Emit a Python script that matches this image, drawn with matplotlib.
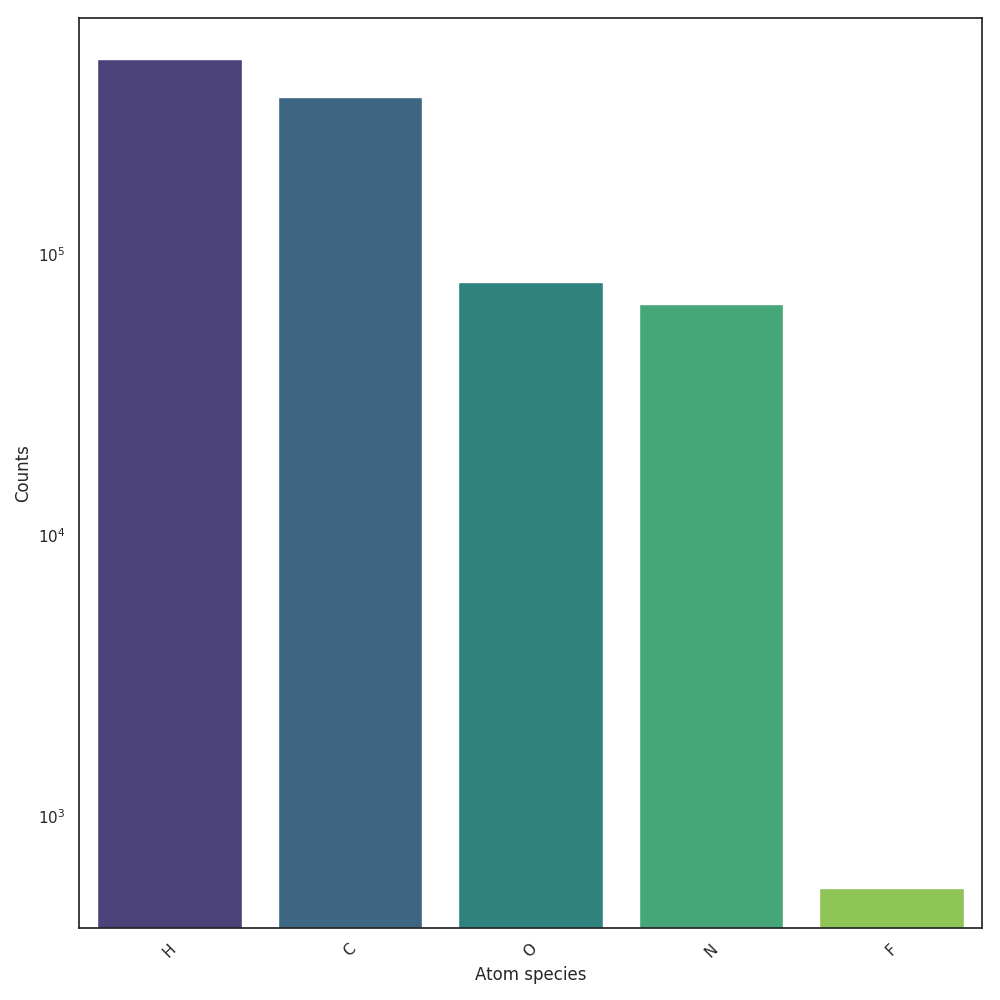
import matplotlib
matplotlib.use("Agg")
import matplotlib.pyplot as plt
import seaborn as sns
import pandas as pd

species = ["H", "C", "O", "N", "F"]
counts = [495000, 362000, 79500, 66400, 555]

sns.set_theme(style="white")
df = pd.DataFrame({"species": species, "counts": counts})

fig, ax = plt.subplots(figsize=(10, 10), dpi=100)
sns.barplot(data=df, x="species", y="counts", hue="species", palette="viridis",
            legend=False, ax=ax)
ax.set_yscale("log")
ax.set_ylim(400, 692000)
ax.set_xlabel("Atom species")
ax.set_ylabel("Counts")
plt.setp(ax.get_xticklabels(), rotation=45)
fig.subplots_adjust(left=0.079, right=0.982, top=0.982, bottom=0.072)
fig.savefig("out.png")
